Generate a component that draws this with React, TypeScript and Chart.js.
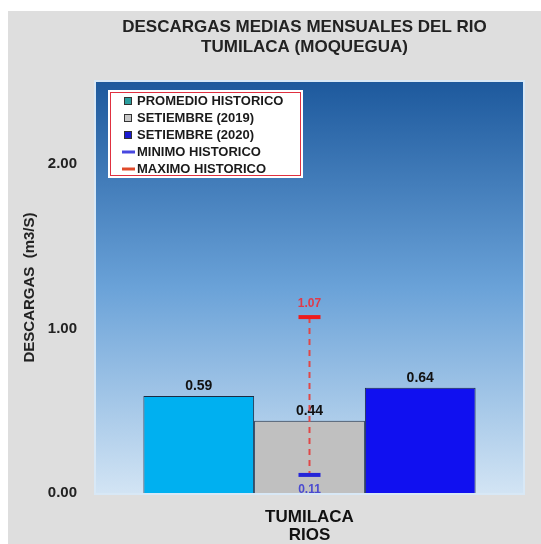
import React, { useEffect, useRef } from "react";
import { Chart, registerables } from "chart.js";

Chart.register(...registerables);

const CATEGORIES = ["TUMILACA"];
const SERIES_LABELS = ["PROMEDIO HISTORICO", "SETIEMBRE (2019)", "SETIEMBRE (2020)"];
const PROMEDIO = [0.59];
const SET_2019 = [0.44];
const SET_2020 = [0.64];
const MIN_HIST = [0.11];
const MAX_HIST = [1.07];
const MIN_LABEL = "MINIMO HISTORICO";
const MAX_LABEL = "MAXIMO HISTORICO";
const TITLE_LINES = ["DESCARGAS MEDIAS MENSUALES DEL RIO", "TUMILACA (MOQUEGUA)"];
const Y_TITLE = "DESCARGAS  (m3/S)";
const X_TITLE = "RIOS";

const FONT = "'Liberation Sans', Arial, sans-serif";
const BAR_COLORS = ["#00b0f0", "#c0c0c0", "#1010f0"];
const LEGEND_MARK = ["#2a9d9d", "#c8c8c8", "#1a1ad0"];

const bgPlugin = {
  id: "bgPlugin",
  beforeDraw(chart: any) {
    const { ctx, chartArea: a } = chart;
    ctx.save();
    const g = ctx.createLinearGradient(0, a.top, 0, a.bottom);
    g.addColorStop(0, "#1d599d");
    g.addColorStop(0.5, "#6aa2d8");
    g.addColorStop(1, "#d2e4f4");
    ctx.fillStyle = g;
    ctx.fillRect(a.left, a.top, a.right - a.left, a.bottom - a.top);
    ctx.strokeStyle = "#d8e8f6";
    ctx.lineWidth = 2;
    ctx.strokeRect(a.left - 1, a.top - 1, a.right - a.left + 2, a.bottom - a.top + 2);
    // title
    ctx.fillStyle = "#222";
    ctx.font = `bold 17px ${FONT}`;
    ctx.textAlign = "center";
    ctx.textBaseline = "middle";
    const cx = (a.left + a.right) / 2 - 5;
    ctx.fillText(TITLE_LINES[0], cx, 16);
    ctx.fillText(TITLE_LINES[1], cx, 36);
    ctx.restore();
  },
};

const overlayPlugin = {
  id: "overlayPlugin",
  afterDatasetsDraw(chart: any) {
    const { ctx, chartArea: a } = chart;
    const xs = chart.scales.x;
    const ys = chart.scales.y;
    ctx.save();
    // value labels
    ctx.font = `bold 14px ${FONT}`;
    ctx.fillStyle = "#111";
    ctx.textAlign = "center";
    ctx.textBaseline = "alphabetic";
    chart.data.datasets.forEach((ds: any, i: number) => {
      const meta = chart.getDatasetMeta(i);
      meta.data.forEach((el: any, j: number) => {
        ctx.fillText(Number(ds.data[j]).toFixed(2), el.x, el.y - 6);
      });
    });
    // min / max
    CATEGORIES.forEach((_, j) => {
      const x = xs.getPixelForValue(j);
      const yMax = ys.getPixelForValue(MAX_HIST[j]);
      const yMin = ys.getPixelForValue(MIN_HIST[j]);
      ctx.strokeStyle = "#e04848";
      ctx.lineWidth = 2;
      ctx.setLineDash([6, 5]);
      ctx.beginPath();
      ctx.moveTo(x, yMax);
      ctx.lineTo(x, yMin);
      ctx.stroke();
      ctx.setLineDash([]);
      ctx.lineWidth = 4;
      ctx.strokeStyle = "#ee1c1c";
      ctx.beginPath();
      ctx.moveTo(x - 11, yMax);
      ctx.lineTo(x + 11, yMax);
      ctx.stroke();
      ctx.strokeStyle = "#2424d8";
      ctx.beginPath();
      ctx.moveTo(x - 11, yMin);
      ctx.lineTo(x + 11, yMin);
      ctx.stroke();
      ctx.font = `bold 12px ${FONT}`;
      ctx.textBaseline = "middle";
      ctx.fillStyle = "#e03a4a";
      ctx.fillText(MAX_HIST[j].toFixed(2), x, yMax - 13);
      ctx.fillStyle = "#4a4ad0";
      ctx.fillText(MIN_HIST[j].toFixed(2), x, yMin + 15);
    });
    // legend
    const lx = a.left + 12;
    const ly = a.top + 8;
    const lw = 195;
    const lh = 88;
    ctx.fillStyle = "#ffffff";
    ctx.fillRect(lx, ly, lw, lh);
    ctx.strokeStyle = "#e03040";
    ctx.lineWidth = 1;
    ctx.strokeRect(lx + 2.5, ly + 2.5, lw - 5, lh - 5);
    const labels = [...SERIES_LABELS, MIN_LABEL, MAX_LABEL];
    ctx.font = `bold 13px ${FONT}`;
    ctx.textAlign = "left";
    ctx.textBaseline = "middle";
    labels.forEach((lab, i) => {
      const yy = ly + 11 + i * 17;
      if (i < 3) {
        ctx.fillStyle = LEGEND_MARK[i];
        ctx.fillRect(lx + 16, yy - 4, 8, 8);
        ctx.strokeStyle = "#333";
        ctx.lineWidth = 1;
        ctx.strokeRect(lx + 16.5, yy - 3.5, 7, 7);
      } else {
        ctx.strokeStyle = i === 3 ? "#4848e0" : "#e04a2a";
        ctx.lineWidth = 3;
        ctx.beginPath();
        ctx.moveTo(lx + 14, yy);
        ctx.lineTo(lx + 27, yy);
        ctx.stroke();
      }
      ctx.fillStyle = "#1a1a1a";
      ctx.fillText(lab, lx + 29, yy + 0.5);
    });
    ctx.restore();
  },
};

export default function App() {
  const ref = useRef<HTMLCanvasElement | null>(null);
  useEffect(() => {
    if (!ref.current) return;
    const mk = (label: string, data: number[], color: string) => ({
      label,
      data,
      backgroundColor: color,
      borderColor: "#1c2c44",
      borderWidth: 1,
      categoryPercentage: 0.778,
      barPercentage: 1.0,
    });
    const chart = new Chart(ref.current, {
      type: "bar",
      data: {
        labels: CATEGORIES,
        datasets: [
          mk(SERIES_LABELS[0], PROMEDIO, BAR_COLORS[0]),
          mk(SERIES_LABELS[1], SET_2019, BAR_COLORS[1]),
          mk(SERIES_LABELS[2], SET_2020, BAR_COLORS[2]),
        ],
      },
      options: {
        animation: false,
        responsive: false,
        devicePixelRatio: 1,
        layout: { padding: { top: 71, right: 18, left: 13, bottom: 0 } },
        plugins: { legend: { display: false }, title: { display: false }, tooltip: { enabled: false } },
        scales: {
          x: {
            grid: { display: false },
            border: { display: false },
            ticks: { color: "#111", font: { family: FONT, size: 17, weight: "bold" }, padding: 6 },
            title: { display: true, text: X_TITLE, color: "#111", font: { family: FONT, size: 17, weight: "bold", lineHeight: 1.0 }, padding: 0 },
            afterFit: (s: any) => { s.height = 51; },
          },
          y: {
            min: 0,
            max: 2.5,
            grid: { display: false },
            border: { display: false },
            ticks: {
              stepSize: 1,
              color: "#222",
              font: { family: FONT, size: 15, weight: "bold" },
              padding: 11,
              callback: (v: any) => (Number(v) % 1 === 0 ? Number(v).toFixed(2) : ""),
            },
            title: { display: true, text: Y_TITLE, color: "#222", font: { family: FONT, size: 15, weight: "bold" }, padding: 0 },
            afterFit: (s: any) => { s.width = 75; },
          },
        },
      },
      plugins: [bgPlugin, overlayPlugin],
    } as any);
    return () => chart.destroy();
  }, []);
  return (
    <div style={{ position: "absolute", left: 8, top: 11, width: 533, height: 533, background: "#dedede" }}>
      <canvas ref={ref} width={533} height={533} style={{ display: "block" }} />
    </div>
  );
}
